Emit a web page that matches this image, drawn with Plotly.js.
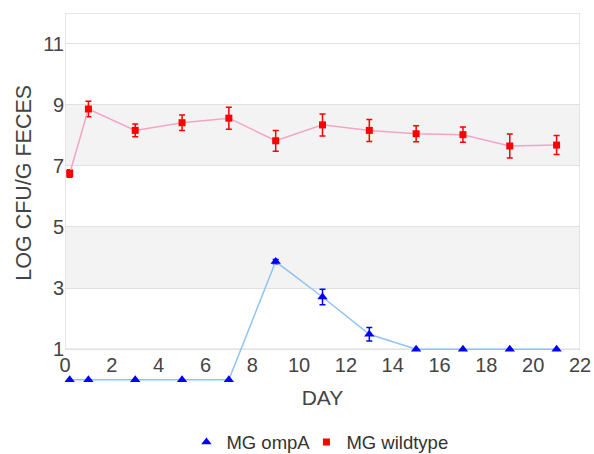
<!DOCTYPE html>
<html>
<head>
<meta charset="utf-8">
<script src="https://cdn.plot.ly/plotly-3.0.1.min.js"></script>
<style>html,body{margin:0;padding:0;background:#fff;}#chart{width:594px;height:454px;}</style>
</head>
<body>
<div id="chart"></div>
<script>
// Data
const days = [0.2, 1, 3, 5, 7, 9, 11, 13, 15, 17, 19, 21];
const wildtype = [6.75, 8.86, 8.16, 8.41, 8.56, 7.82, 8.34, 8.16, 8.05, 8.02, 7.65, 7.68];
const wildtypeErr = [0.12, 0.25, 0.21, 0.25, 0.36, 0.34, 0.36, 0.36, 0.26, 0.25, 0.39, 0.31];
const ompA = [0, 0, 0, 0, 0, 3.87, 2.71, 1.49, 1.0, 1.0, 1.0, 1.0];
const ompAErr = [0, 0, 0, 0, 0, 0.07, 0.25, 0.22, 0, 0, 0, 0];
const yTicks = [1, 3, 5, 7, 9, 11];
const seriesNames = ['MG ompA', 'MG wildtype'];

const ompAMarker = {symbol: 'triangle-up', size: 9, color: '#0000ff'};
const wtMarker = {symbol: 'square', size: 7, color: '#ff0000'};

const traces = [
  {
    x: days, y: ompA, name: seriesNames[0], type: 'scatter', mode: 'lines+markers',
    line: {color: '#8fc3f2', width: 1.5}, marker: ompAMarker, showlegend: false,
    error_y: {type: 'data', array: ompAErr, visible: true, color: '#0000ff', thickness: 1.5, width: 3},
    cliponaxis: false
  },
  {
    x: days, y: wildtype, name: seriesNames[1], type: 'scatter', mode: 'lines+markers',
    line: {color: '#f4a3c8', width: 1.5}, marker: wtMarker, showlegend: false,
    error_y: {type: 'data', array: wildtypeErr, visible: true, color: '#ff0000', thickness: 1.5, width: 3},
    cliponaxis: false
  },
  // legend entries (markers only, as in the reference legend)
  {x: [null], y: [null], name: seriesNames[0], type: 'scatter', mode: 'markers', marker: ompAMarker, legendwidth: 75},
  {x: [null], y: [null], name: seriesNames[1], type: 'scatter', mode: 'markers', marker: wtMarker}
];

const layout = {
  width: 594, height: 454,
  margin: {l: 65, r: 14, t: 13, b: 65, autoexpand: false},
  paper_bgcolor: '#ffffff', plot_bgcolor: '#ffffff',
  font: {family: 'Liberation Sans, Arial, sans-serif', color: '#444'},
  showlegend: true,
  legend: {orientation: 'h', x: 0.495, xanchor: 'center', y: -0.142, yanchor: 'middle',
           font: {size: 18.5, color: '#333'}},
  xaxis: {
    range: [0, 22], dtick: 2, tick0: 0, showgrid: false, zeroline: false, showline: false,
    anchor: 'free', position: 0.1057, ticklabelstandoff: 2,
    tickfont: {size: 20, color: '#444'},
    title: {text: 'DAY', font: {size: 21, color: '#444'}, standoff: 15}
  },
  yaxis: {
    range: [-0.3, 12], tickvals: yTicks, ticktext: yTicks.map(String),
    showgrid: true, gridcolor: '#e0e0e0', gridwidth: 1, zeroline: false, showline: false,
    tickfont: {size: 20, color: '#444'}
  },
  shapes: [
    {type: 'rect', xref: 'x', yref: 'y', x0: 0, x1: 22, y0: 3, y1: 5, fillcolor: '#f3f3f3', line: {width: 0}, layer: 'below'},
    {type: 'rect', xref: 'x', yref: 'y', x0: 0, x1: 22, y0: 7, y1: 9, fillcolor: '#f3f3f3', line: {width: 0}, layer: 'below'},
    {type: 'rect', xref: 'x', yref: 'y', x0: 0, x1: 22, y0: 1, y1: 12, fillcolor: 'rgba(0,0,0,0)', line: {color: '#e0e0e0', width: 1.5}, layer: 'below'}
  ],
  annotations: [
    {text: 'LOG CFU/G FECES', xref: 'paper', yref: 'paper', x: -0.08, y: 0.548,
     xanchor: 'center', yanchor: 'middle', textangle: -90, showarrow: false,
     font: {size: 21.5, color: '#444'}}
  ]
};

Plotly.newPlot('chart', traces, layout, {displayModeBar: false, staticPlot: true});
</script>
</body>
</html>
